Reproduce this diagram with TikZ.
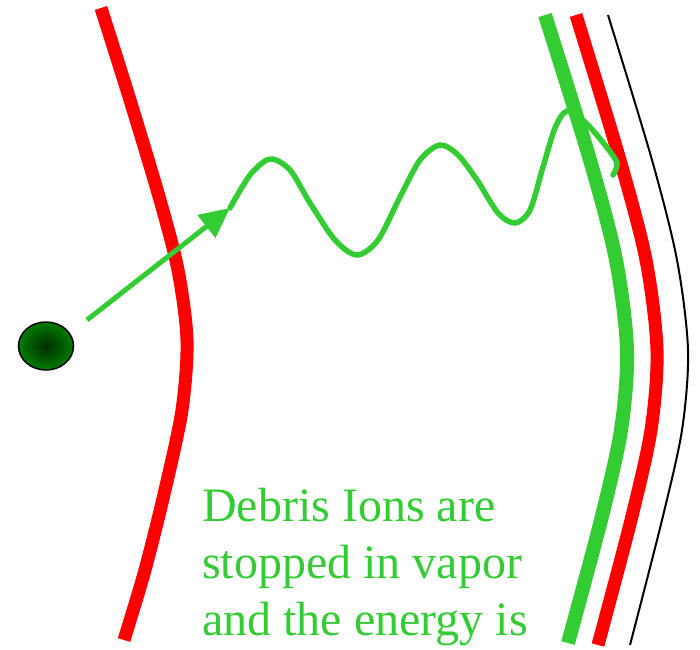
\documentclass[tikz,border=0pt]{standalone}
\usepackage{xcolor}
\usepackage{fontspec}
\setmainfont{Liberation Serif}
\usetikzlibrary{shapes.geometric,arrows.meta,positioning}
\definecolor{ionGreen}{RGB}{51,204,51}
\definecolor{wallRed}{RGB}{255,0,0}
\definecolor{ballGreen}{RGB}{0,125,0}
\definecolor{ballDark}{RGB}{0,45,0}

\begin{document}
\begin{tikzpicture}[
    x=1pt, y=-1pt,
    wall/.style={line width=13pt, wallRed},
    vapor/.style={line width=14pt, ionGreen},
    liner/.style={line width=2pt, black},
    wave/.style={line width=5.5pt, ionGreen, line cap=round},
    arrow/.style={-{Triangle[length=30pt,width=28pt]}, line width=5pt, ionGreen},
    ion/.style={ellipse, draw, line width=1.5pt, minimum width=55pt, minimum height=48pt, inner color=ballDark, outer color=ballGreen},
    label/.style={anchor=base west, align=left, inner sep=0pt, text=ionGreen, font=\fontsize{48}{57}\selectfont}
]
    \useasboundingbox (0,0) rectangle (700,649);

    % Left wall
    \draw[wall] plot[smooth] coordinates {(101,8) (130,100) (160,200) (178,270) (187,340) (182,410) (165,490) (145,570) (124,640)};

    % Right wall: vapor, liquid, solid
    \draw[liner] plot[smooth] coordinates {(608,15) (652,160) (677,260) (688,350) (682,430) (662,520) (630,645)};
    \draw[wall] plot[smooth] coordinates {(576,15) (620,160) (646,260) (657,350) (651,430) (631,520) (598,645)};
    \draw[vapor] plot[smooth] coordinates {(545,15) (590,160) (616,260) (627,350) (621,430) (601,520) (568,643)};

    % Debris ion
    \node[ion] (ion) at (46,346) {};

    % Ion path
    \coordinate (tail) at (87,320);
    \coordinate (head) at (230,208);
    \draw[arrow] (tail) -- (head);
    \draw[wave] plot[smooth] coordinates {(head) (250,175) (270,159) (290,170) (310,203) (335,240) (357,255) (378,240) (400,197) (420,160) (440,145) (458,155) (477,180) (498,213) (515,223) (530,210) (543,167) (555,128) (567,111) (585,122) (605,145) (617,163) (613,175)};

    % Caption
    \node[label] (caption) at (202,635) {Debris Ions are\\stopped in vapor\\and the energy is};
\end{tikzpicture}
\end{document}
